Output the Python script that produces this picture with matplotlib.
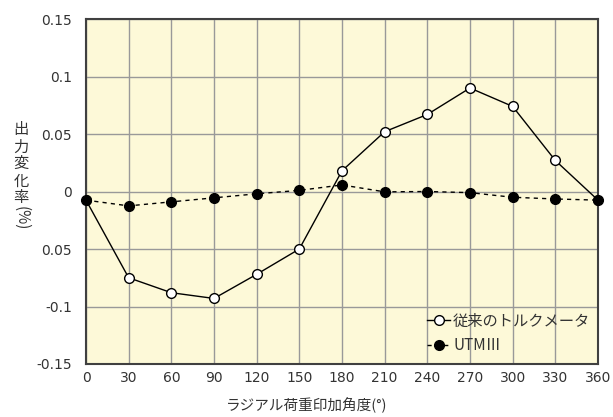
import matplotlib
matplotlib.use("Agg")
import matplotlib.pyplot as plt

angles = [0, 30, 60, 90, 120, 150, 180, 210, 240, 270, 300, 330, 360]
conventional = [-0.0075, -0.075, -0.088, -0.093, -0.072, -0.050, 0.018, 0.052, 0.067, 0.090, 0.074, 0.027, -0.0075]
utm3 = [-0.0075, -0.0125, -0.009, -0.0055, -0.002, 0.001, 0.0057, -0.0003, 0.0, -0.001, -0.005, -0.0065, -0.0075]
yticks = [0.15, 0.1, 0.05, 0, -0.05, -0.1, -0.15]
ytick_labels = ["0.15", "0.1", "0.05", "0", "0.05", "-0.1", "-0.15"]
xlabel = "ラジアル荷重印加角度(°)"
ylabel_chars = "出力変化率"
legend_labels = ["従来のトルクメータ", "UTMⅢ"]

plt.rcParams['font.family'] = ['DejaVu Sans', 'Noto Sans CJK JP']

fig = plt.figure(figsize=(6.13, 4.17), dpi=100)
ax = fig.add_axes([0.1403, 0.1271, 0.8352, 0.8273])
ax.set_facecolor("#FDF9D8")

ax.plot(angles, conventional, '-', color='black', lw=1.0, marker='o', ms=7,
        mfc='white', mec='black', mew=1.0, label=legend_labels[0], zorder=4)
ax.plot(angles, utm3, '--', color='black', lw=1.0, dashes=(3, 3), marker='o', ms=7,
        mfc='black', mec='black', label=legend_labels[1], zorder=5, clip_on=False)

ax.set_xlim(0, 360)
ax.set_ylim(-0.15, 0.15)
ax.set_xticks(angles)
ax.set_xticklabels([str(a) for a in angles], fontsize=10, color='#333333')
ax.set_yticks(yticks)
ax.set_yticklabels(ytick_labels, fontsize=10, color='#333333')
ax.tick_params(axis='y', length=0, pad=10)
ax.tick_params(axis='x', length=0, pad=5)
ax.grid(True, color='#999999', lw=1.0)
ax.set_axisbelow(True)
for s in ax.spines.values():
    s.set_color('#404040')
    s.set_linewidth(1.5)

fig.text(0.5, 0.008, xlabel, ha='center', va='bottom', fontsize=10.5,
         family=['Noto Sans CJK JP'], color='#333333')
fig.text(0.034, 0.607, "\n".join(ylabel_chars), ha='center', va='center', fontsize=11,
         family=['Noto Sans CJK JP'], color='#333333', linespacing=1.0)
fig.text(0.034, 0.477, "(%)", ha='center', va='center', fontsize=11, rotation=-90,
         family=['Noto Sans CJK JP'], color='#333333')

leg = ax.legend(loc='lower right', bbox_to_anchor=(1.012, -0.012), frameon=False,
                prop={'family': ['Noto Sans CJK JP'], 'size': 11}, handlelength=1.5,
                handletextpad=0.2, labelspacing=0.5)
for t in leg.get_texts():
    t.set_color('#333333')

fig.savefig("out.png", dpi=100)
